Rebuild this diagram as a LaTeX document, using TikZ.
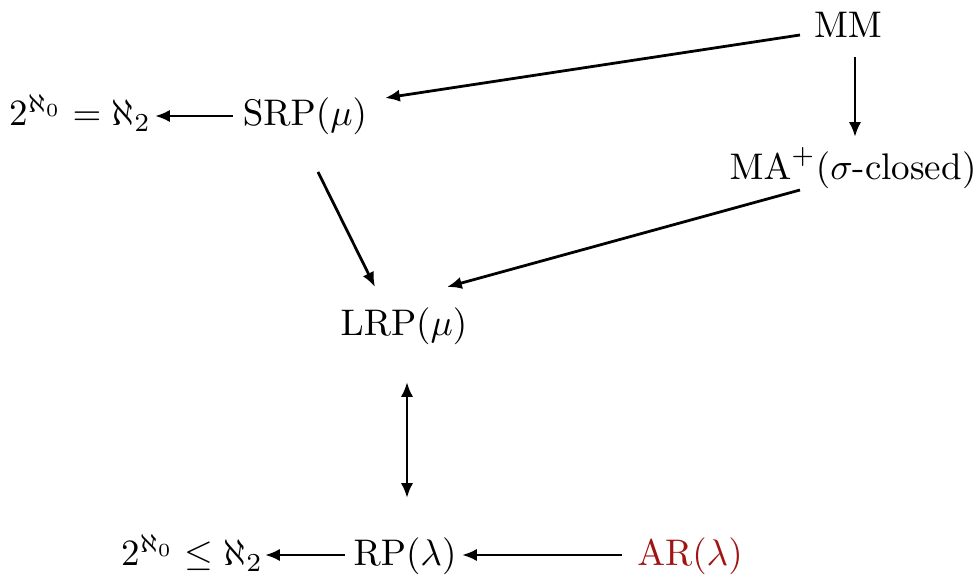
\documentclass[tikz,border=0pt]{standalone}
\usetikzlibrary{arrows.meta,calc}
\definecolor{darkred}{RGB}{160,20,20}
\begin{document}
\begin{tikzpicture}[x=0.27pt,y=-0.27pt,
  lbl/.style={anchor=base,inner sep=0pt},
  arr/.style={line width=0.75pt,-{Latex[length=4pt,width=3.3pt]}},
  darr/.style={line width=0.75pt,{Latex[length=4pt,width=3.3pt]}-{Latex[length=4pt,width=3.3pt]}}]
\useasboundingbox (0,0) rectangle (979,575);
\node[lbl] (MM) at (848,38) {$\mathrm{MM}$};
\node[lbl] (MA) at (853,180) {$\mathrm{MA}^{+}(\sigma$-closed$)$};
\node[lbl] (SRP) at (305,126) {$\mathrm{SRP}(\mu)$};
\node[lbl] (E) at (80,126) {$2^{\aleph_0}=\aleph_2$};
\node[lbl] (LRP) at (404,336) {$\mathrm{LRP}(\mu)$};
\node[lbl] (RP) at (405,566) {$\mathrm{RP}(\lambda)$};
\node[lbl] (F) at (192,566) {$2^{\aleph_0}\leq\aleph_2$};
\node[lbl,text=darkred] (AR) at (690,566) {$\mathrm{AR}(\lambda)$};
\draw[arr] ($(MM.base)+(-48,-3)$) -- ($(SRP.base)+(80,-28)$);
\draw[arr] ($(MM.base)+(7,19)$) -- ($(MA.base)+(2,-43)$);
\draw[arr] ($(MA.base)+(-53,10)$) -- ($(LRP.base)+(43,-49)$);
\draw[arr] ($(SRP.base)+(13,46)$) -- ($(LRP.base)+(-29,-49)$);
\draw[arr] ($(SRP.base)+(-72,-10)$) -- ($(E.base)+(75,-10)$);
\draw[darr] ($(LRP.base)+(3,46)$) -- ($(RP.base)+(2,-68)$);
\draw[arr] ($(RP.base)+(-60,-11)$) -- ($(F.base)+(73,-11)$);
\draw[arr] ($(AR.base)+(-68,-11)$) -- ($(RP.base)+(57,-11)$);
\end{tikzpicture}
\end{document}
